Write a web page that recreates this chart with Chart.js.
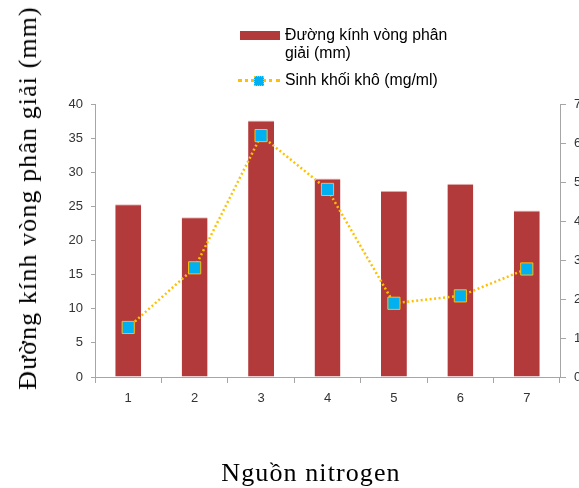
<!DOCTYPE html>
<html>
<head>
<meta charset="utf-8">
<script src="https://cdn.jsdelivr.net/npm/chart.js@4.4.1/dist/chart.umd.min.js"></script>
<style>
html, body { margin: 0; padding: 0; width: 579px; height: 488px; overflow: hidden; background: #fff; }
#wrap { position: relative; width: 579px; height: 488px; overflow: hidden; }
#c { position: absolute; left: 0; top: 0; }
.serif { font-family: "Liberation Serif", "Times New Roman", serif; font-size: 26px; letter-spacing: 1.1px; color: #000; white-space: nowrap; position: absolute; line-height: 30px; }
#ytitle { left: 28px; top: 198px; transform: translate(-50%, -50%) rotate(-90deg); }
#xtitle { left: 311px; top: 473px; transform: translate(-50%, -50%); }
.leg { position: absolute; font-family: "Liberation Sans", Arial, sans-serif; font-size: 15.8px; line-height: 18px; color: #000; white-space: nowrap; }
#sw1 { position: absolute; left: 240px; top: 31px; width: 40px; height: 9px; background: #b33a3a; }
#ln2 { position: absolute; left: 238px; top: 79px; width: 42px; height: 0; border-top: 3px dotted #ffc000; }
#sq2 { position: absolute; left: 254px; top: 76px; width: 8px; height: 8px; background: #00b0f0; border: 1px dotted #ffc000; }
</style>
</head>
<body>
<div id="wrap">
  <canvas id="c" width="620" height="488" style="width:620px;height:488px"></canvas>
  <div id="ytitle" class="serif">Đường kính vòng phân giải (mm)</div>
  <div id="xtitle" class="serif">Nguồn nitrogen</div>
  <div id="sw1"></div>
  <div class="leg" style="left:285px;top:26px">Đường kính vòng phân<br>giải (mm)</div>
  <div id="ln2"></div>
  <div id="sq2"></div>
  <div class="leg" style="left:285px;top:71px">Sinh khối khô (mg/ml)</div>
</div>
<script>
// ---- data ----
const categories = ['1', '2', '3', '4', '5', '6', '7'];
const diameterMM = [25.3, 23.4, 37.6, 29.1, 27.3, 28.3, 24.4];
const biomassMgMl = [1.27, 2.80, 6.19, 4.81, 1.89, 2.08, 2.77];
const seriesNames = ['Đường kính vòng phân giải (mm)', 'Sinh khối khô (mg/ml)'];
const leftAxisRange = [0, 40, 5];
const rightAxisRange = [0, 7, 1];

const axisColor = '#a6a6a6';
const tickFont = { family: '"Liberation Sans", Arial, sans-serif', size: 13 };
const tickColor = '#333333';

new Chart(document.getElementById('c'), {
  type: 'bar',
  data: {
    labels: categories,
    datasets: [
      {
        type: 'line',
        label: seriesNames[1],
        data: biomassMgMl,
        yAxisID: 'y1',
        order: 0,
        borderColor: '#ffc000',
        borderWidth: 2.5,
        borderDash: [2, 2.5],
        tension: 0,
        fill: false,
        pointStyle: 'rect',
        pointRadius: 8.6,
        pointBackgroundColor: '#00b0f0',
        pointBorderColor: '#ffc000',
        pointBorderWidth: 1
      },
      {
        type: 'bar',
        label: seriesNames[0],
        data: diameterMM,
        yAxisID: 'y',
        order: 1,
        backgroundColor: '#b33a3a',
        borderColor: '#e9bcbc',
        borderWidth: { top: 1, left: 0, right: 0, bottom: 0 },
        borderSkipped: false,
        categoryPercentage: 1,
        barPercentage: 0.39
      }
    ]
  },
  options: {
    responsive: false,
    animation: false,
    layout: { padding: { top: 104, left: 0, right: 0, bottom: 0 } },
    plugins: { legend: { display: false }, tooltip: { enabled: false } },
    scales: {
      x: {
        offset: true,
        grid: { display: true, offset: true, drawOnChartArea: false, drawTicks: true, tickLength: 6, color: axisColor },
        border: { color: axisColor, width: 1 },
        ticks: { font: tickFont, color: tickColor, padding: 8 },
        afterFit: s => { s.height = 111; }
      },
      y: {
        position: 'left',
        min: leftAxisRange[0], max: leftAxisRange[1],
        ticks: { stepSize: leftAxisRange[2], font: tickFont, color: tickColor, padding: 8 },
        grid: { drawOnChartArea: false, drawTicks: true, tickLength: 4, color: axisColor },
        border: { color: axisColor, width: 1 },
        afterFit: s => { s.width = 95; }
      },
      y1: {
        position: 'right',
        min: rightAxisRange[0], max: rightAxisRange[1],
        ticks: { stepSize: rightAxisRange[2], font: tickFont, color: tickColor, padding: 8 },
        grid: { drawOnChartArea: false, drawTicks: true, tickLength: 6, color: axisColor },
        border: { color: axisColor, width: 1 },
        afterFit: s => { s.width = 60; }
      }
    }
  }
});
</script>
</body>
</html>
